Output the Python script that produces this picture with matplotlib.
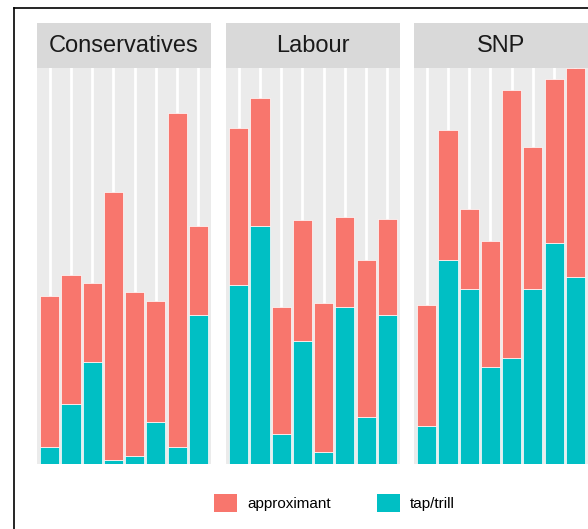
import matplotlib.pyplot as plt
import numpy as np
from matplotlib.patches import Patch, Rectangle
from matplotlib.lines import Line2D

plt.rcParams['font.family'] = ['Liberation Sans', 'DejaVu Sans']

parties = ["Conservatives", "Labour", "SNP"]
speakers = [1, 2, 3, 4, 5, 6, 7, 8]

# tap/trill (bottom) e approximant (top)
tap_con = [1.7, 6.0, 10.2, 0.4, 0.8, 4.2, 1.7, 14.9]
approx_con = [15.1, 12.9, 7.9, 26.8, 16.4, 12.1, 33.4, 8.9]
tap_lab = [17.9, 23.8, 3.0, 12.3, 1.2, 15.7, 4.7, 14.9]
approx_lab = [15.7, 12.8, 12.7, 12.1, 14.9, 9.0, 15.7, 9.6]
tap_snp = [3.8, 20.4, 17.5, 9.7, 10.6, 17.5, 22.1, 18.7]
approx_snp = [12.1, 13.0, 8.0, 12.6, 26.8, 14.2, 16.4, 20.9]

taps = [tap_con, tap_lab, tap_snp]
approxs = [approx_con, approx_lab, approx_snp]

col_approx = "#F8766D"
col_tap = "#00BFC4"

W, H = 588, 529
fig = plt.figure(figsize=(W / 100, H / 100), dpi=100)

ymax = max(max(np.array(t) + np.array(a)) for t, a in zip(taps, approxs))

lefts = [37, 226, 414]
pw = 174
top, bottom = 68, 464
strip_top = 23

for i, party in enumerate(parties):
    ax = fig.add_axes([lefts[i] / W, 1 - bottom / H, pw / W, (bottom - top) / H])
    ax.set_facecolor("#EBEBEB")
    x = np.array(speakers)
    ax.bar(x, taps[i], width=0.9, color=col_tap, edgecolor="white", linewidth=0.5, zorder=3)
    ax.bar(x, approxs[i], bottom=taps[i], width=0.9, color=col_approx,
           edgecolor="white", linewidth=0.5, zorder=3)
    for xi in x:
        ax.axvline(xi, color="white", linewidth=2, zorder=1)
    ax.set_xlim(0.4, 8.6)
    ax.set_ylim(0, ymax)
    ax.set_xticks([])
    ax.set_yticks([])
    for s in ax.spines.values():
        s.set_visible(False)

    # strip
    sax = fig.add_axes([lefts[i] / W, 1 - top / H, pw / W, (top - strip_top) / H])
    sax.set_facecolor("#D9D9D9")
    sax.set_xticks([])
    sax.set_yticks([])
    for s in sax.spines.values():
        s.set_visible(False)
    sax.text(0.5, 0.48, party, ha="center", va="center", fontsize=17, color="#1A1A1A",
             transform=sax.transAxes)

# legenda
handles = [Patch(facecolor=col_approx, edgecolor="none", label="approximant"),
           Patch(facecolor=col_tap, edgecolor="none", label="tap/trill")]
fig.legend(handles=handles, loc="center", bbox_to_anchor=(334.5 / W, 1 - 503 / H),
           ncol=2, frameon=False, fontsize=11, handlelength=1.5, handleheight=1.45,
           handletextpad=0.65, columnspacing=3.0, borderpad=0)

# cornice esterna
fig.add_artist(Line2D([14 / W, 14 / W], [1 - 8 / H, 0], color="black", linewidth=1.2))
fig.add_artist(Line2D([14 / W, 1], [1 - 8 / H, 1 - 8 / H], color="black", linewidth=1.2))

fig.savefig("out.png", dpi=100)
